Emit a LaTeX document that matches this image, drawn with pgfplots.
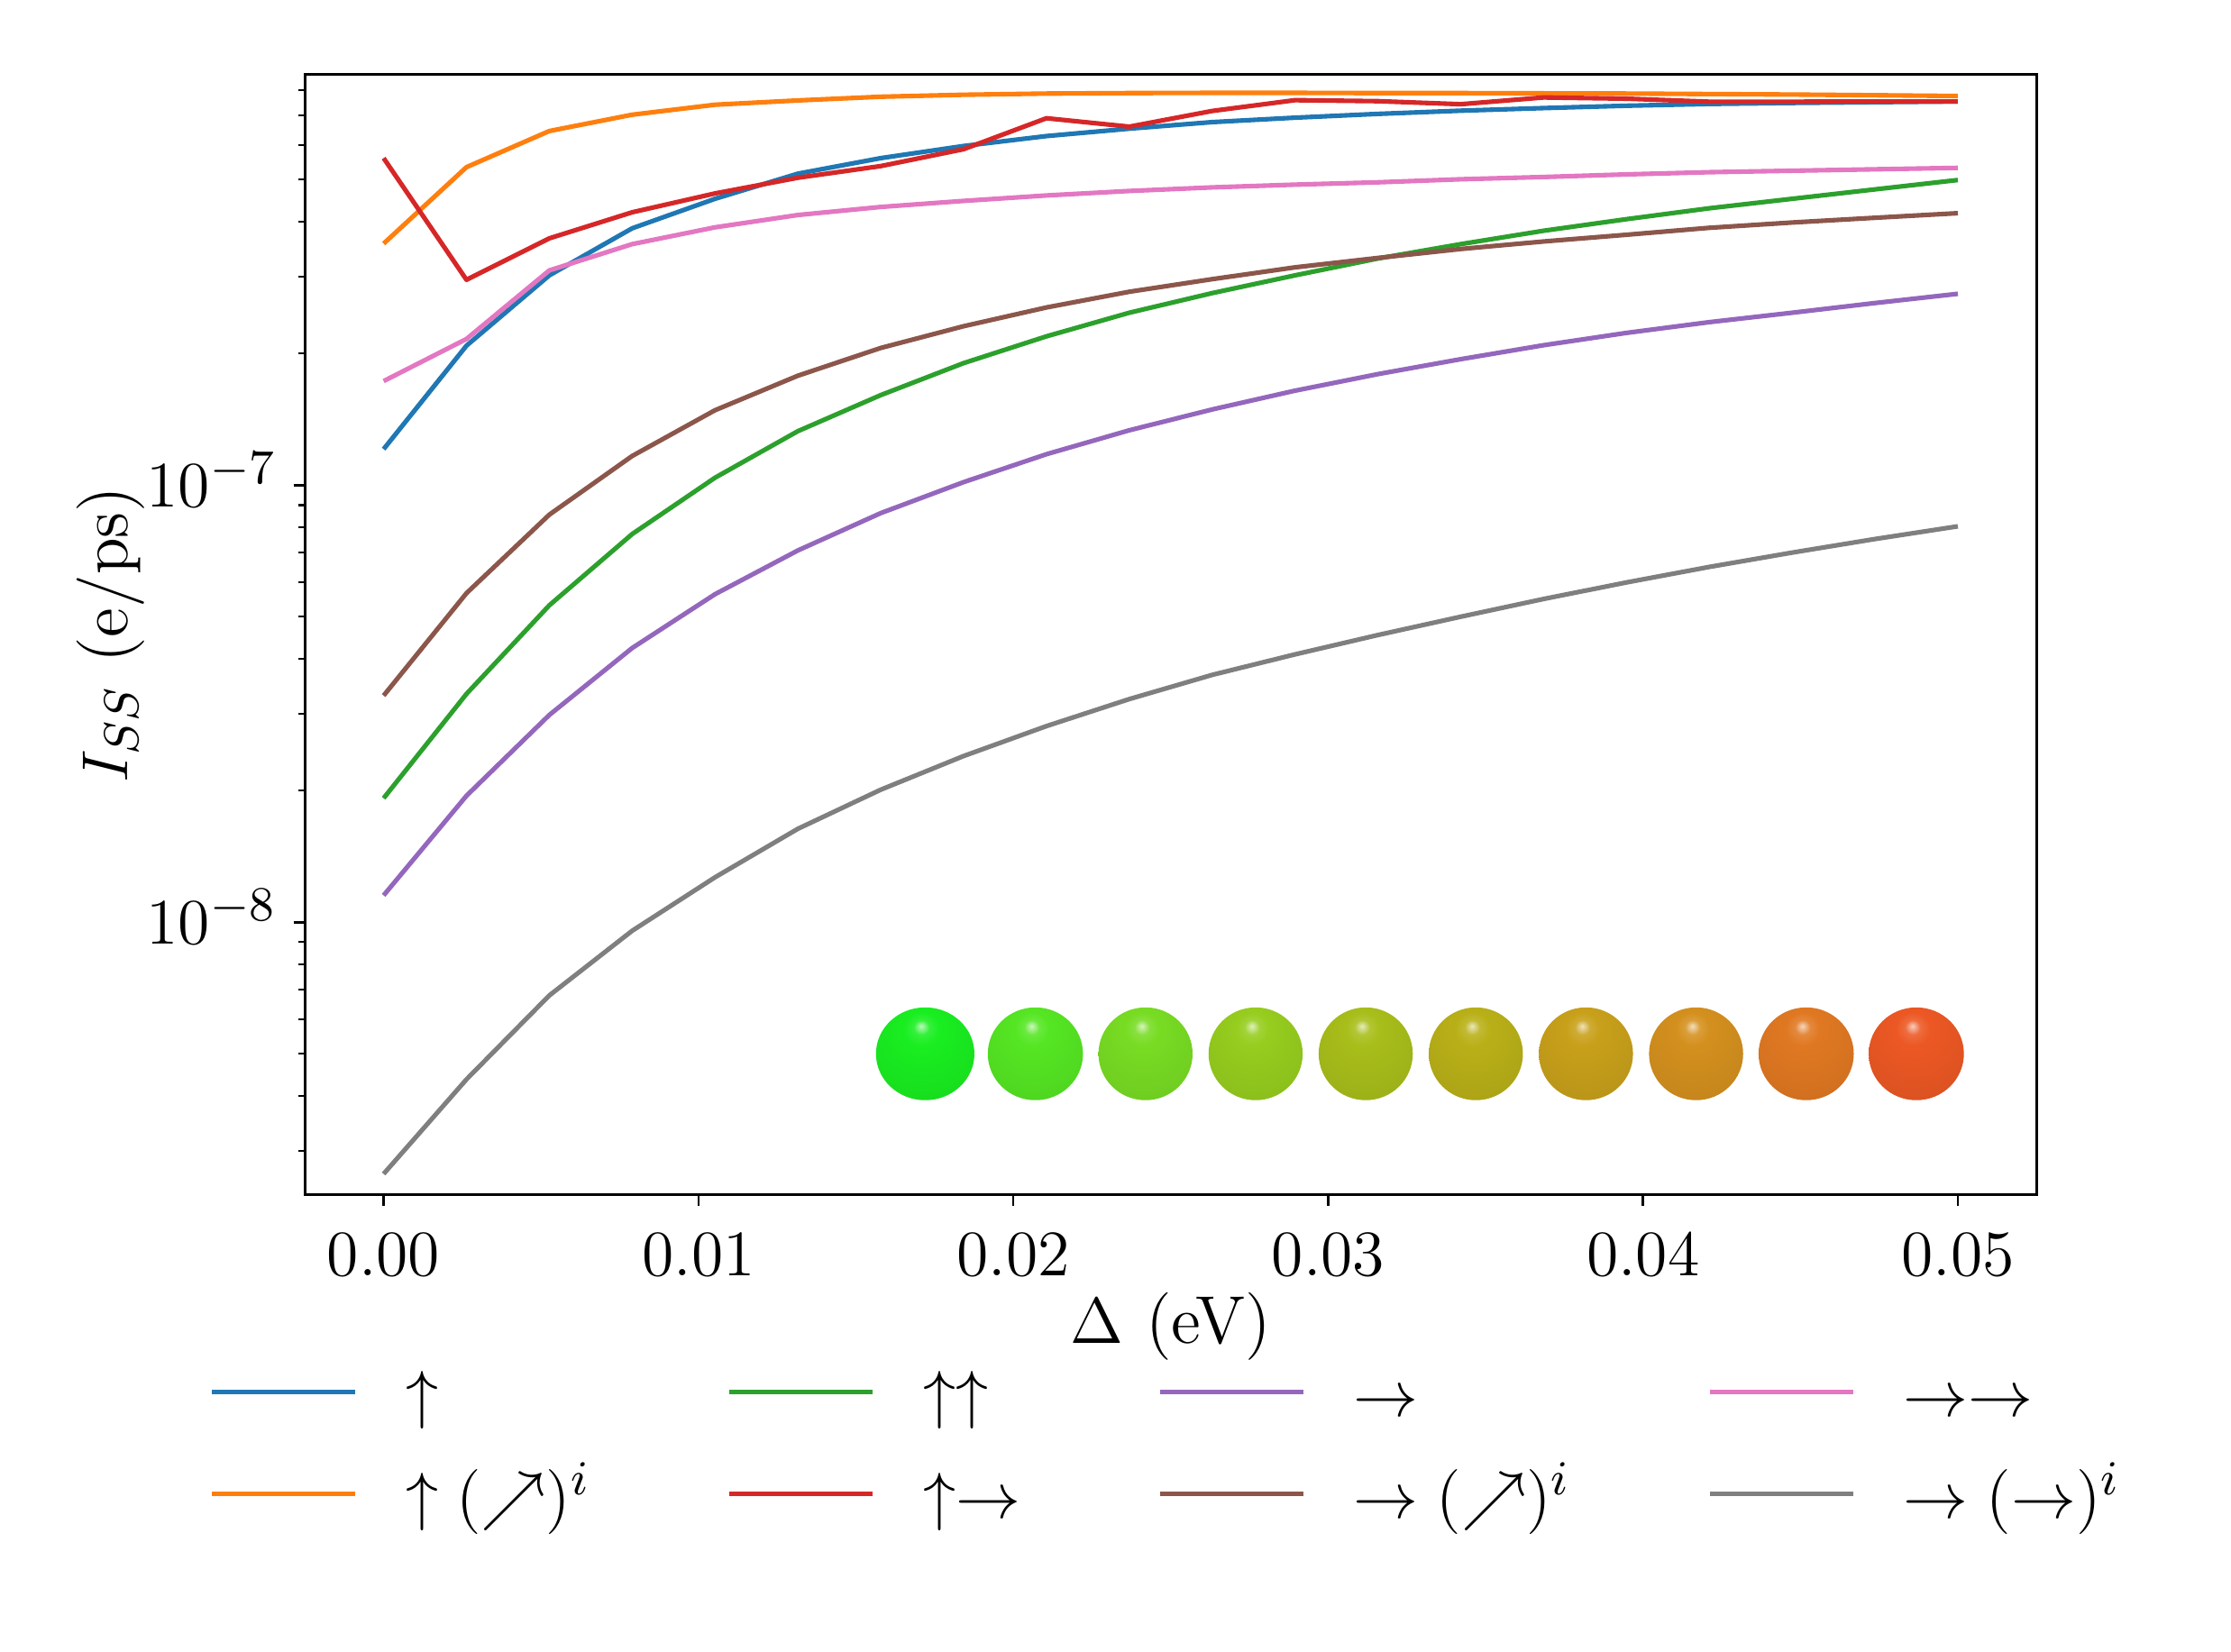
\documentclass[border=0pt]{standalone}
\usepackage{pgfplots}
\pgfplotsset{compat=1.18}
\usepackage{pgfplotstable}

\definecolor{c0}{HTML}{1F77B4}
\definecolor{c1}{HTML}{FF7F0E}
\definecolor{c2}{HTML}{2CA02C}
\definecolor{c3}{HTML}{D62728}
\definecolor{c4}{HTML}{9467BD}
\definecolor{c5}{HTML}{8C564B}
\definecolor{c6}{HTML}{E377C2}
\definecolor{c7}{HTML}{7F7F7F}

\definecolor{s1}{RGB}{25,238,32}
\definecolor{s2}{RGB}{85,230,35}
\definecolor{s3}{RGB}{120,220,35}
\definecolor{s4}{RGB}{150,205,30}
\definecolor{s5}{RGB}{168,190,26}
\definecolor{s6}{RGB}{185,176,24}
\definecolor{s7}{RGB}{200,160,26}
\definecolor{s8}{RGB}{212,144,30}
\definecolor{s9}{RGB}{224,120,34}
\definecolor{s10}{RGB}{236,88,36}

\colorlet{sphcol}{green}
\pgfdeclareradialshading[sphcol]{sphere}{\pgfqpoint{-2bp}{15bp}}{%
 color(0bp)=(sphcol!30!white);
 color(4bp)=(sphcol!88!white);
 color(9bp)=(sphcol);
 color(38bp)=(sphcol!92!black);
 color(65bp)=(sphcol!66!black);
 color(80bp)=(sphcol!60!black)}

\newcommand\defsphere[3]{%
 \pgfdeclareplotmark{#1}{%
  \colorlet{sphcol}{#2}%
  \pgfpathellipse{\pgfpointorigin}{\pgfqpoint{#3}{0pt}}{\pgfqpoint{0pt}{8.58pt}}%
  \pgfshadepath{sphere}{0}%
  \pgfusepath{discard}}}
\defsphere{sph1}{s1}{9.1pt}
\defsphere{sph2}{s2}{8.8pt}
\defsphere{sph3}{s3}{8.7pt}
\defsphere{sph4}{s4}{8.7pt}
\defsphere{sph5}{s5}{8.7pt}
\defsphere{sph6}{s6}{8.7pt}
\defsphere{sph7}{s7}{8.7pt}
\defsphere{sph8}{s8}{8.7pt}
\defsphere{sph9}{s9}{8.8pt}
\defsphere{sph10}{s10}{8.8pt}

\pgfplotstableread{
x up upne upup upr r rne rr rrr
0 1.209e-7 3.57e-7 1.922e-8 5.60e-7 1.152e-8 3.30e-8 1.73e-7 2.656e-9
0.0026316 2.085e-7 5.34e-7 3.33e-8 2.95e-7 1.947e-8 5.66e-8 2.16e-7 4.37e-9
0.0052632 3.02e-7 6.46e-7 5.31e-8 3.67e-7 2.98e-8 8.56e-8 3.10e-7 6.80e-9
0.0078947 3.87e-7 7.04e-7 7.73e-8 4.21e-7 4.24e-8 1.166e-7 3.56e-7 9.56e-9
0.0105263 4.52e-7 7.42e-7 1.040e-7 4.65e-7 5.63e-8 1.484e-7 3.89e-7 1.267e-8
0.0131579 5.16e-7 7.59e-7 1.329e-7 5.05e-7 7.09e-8 1.780e-7 4.15e-7 1.636e-8
0.0157895 5.60e-7 7.74e-7 1.607e-7 5.37e-7 8.63e-8 2.06e-7 4.33e-7 2.01e-8
0.0184211 5.97e-7 7.82e-7 1.902e-7 5.87e-7 1.016e-7 2.31e-7 4.47e-7 2.40e-8
0.0210526 6.29e-7 7.87e-7 2.19e-7 6.91e-7 1.177e-7 2.55e-7 4.60e-7 2.81e-8
0.0236842 6.54e-7 7.89e-7 2.48e-7 6.61e-7 1.335e-7 2.77e-7 4.71e-7 3.24e-8
0.0263158 6.77e-7 7.90e-7 2.75e-7 7.18e-7 1.49e-7 2.96e-7 4.80e-7 3.68e-8
0.0289474 6.93e-7 7.90e-7 3.02e-7 7.60e-7 1.645e-7 3.15e-7 4.87e-7 4.10e-8
0.0315789 7.07e-7 7.89e-7 3.30e-7 7.56e-7 1.795e-7 3.31e-7 4.93e-7 4.54e-8
0.0342105 7.19e-7 7.89e-7 3.56e-7 7.44e-7 1.942e-7 3.47e-7 5.01e-7 5.00e-8
0.0368421 7.29e-7 7.88e-7 3.82e-7 7.71e-7 2.09e-7 3.61e-7 5.07e-7 5.49e-8
0.0394737 7.38e-7 7.87e-7 4.06e-7 7.66e-7 2.23e-7 3.74e-7 5.14e-7 5.99e-8
0.0421053 7.45e-7 7.85e-7 4.30e-7 7.54e-7 2.36e-7 3.88e-7 5.20e-7 6.50e-8
0.0447368 7.49e-7 7.83e-7 4.52e-7 7.54e-7 2.48e-7 3.99e-7 5.24e-7 7.01e-8
0.0473684 7.52e-7 7.80e-7 4.75e-7 7.55e-7 2.61e-7 4.09e-7 5.28e-7 7.53e-8
0.05 7.55e-7 7.77e-7 4.99e-7 7.55e-7 2.74e-7 4.19e-7 5.32e-7 8.05e-8
}\data

\begin{document}
\begin{tikzpicture}[font=\fontsize{12.5}{15}\selectfont]
\useasboundingbox (-56.38pt,-84.6pt) rectangle (356.12pt,220.88pt);
\begin{axis}[
  at={(0pt,0pt)}, anchor=south west,
  scale only axis, width=320.17pt, height=207.1pt,
  ymode=log,
  xmin=-0.0025, xmax=0.0525, ymin=2.383e-9, ymax=8.697e-7,
  xtick={0,0.01,0.02,0.03,0.04,0.05},
  scaled x ticks=false,
  xticklabel={\pgfmathprintnumber[fixed,fixed zerofill,precision=2]{\tick}},
  ytick={1e-8,1e-7},
  minor ytick={3e-9,4e-9,5e-9,6e-9,7e-9,8e-9,9e-9,2e-8,3e-8,4e-8,5e-8,6e-8,7e-8,8e-8,9e-8,2e-7,3e-7,4e-7,5e-7,6e-7,7e-7,8e-7},
  tick align=outside,
  tick pos=left,
  major tick length=2.1pt,
  minor tick length=1.17pt,
  every tick/.style={black, line width=0.45pt},
  every minor tick/.append style={line width=0.34pt},
  axis line style={line width=0.45pt},
  xlabel={$\Delta$ (eV)},
  ylabel={$I_{SS}$ (e/ps)},
  every axis x label/.style={at={(axis description cs:0.5,0)}, anchor=base, yshift=-27.45pt},
  every axis y label/.style={at={(axis description cs:0,0.5)}, xshift=-32.8pt, rotate=90, anchor=base},
  xticklabel style={anchor=base, yshift=-12.85pt, inner sep=0pt},
  yticklabel style={anchor=base east, xshift=-2.9pt, yshift=-4.0pt, inner sep=0pt},
  every axis plot/.append style={line width=0.85pt, line join=round},
  legend columns=4,
  legend cell align=left,
  legend image code/.code={\draw[#1] (0pt,4.5pt) -- (26.5pt,4.5pt);},
  legend style={at={(axis description cs:0,0)}, anchor=north west,
    xshift=-17.6pt, yshift=-31.6pt, draw=none, fill=none,
    inner sep=0pt, outer sep=0pt, row sep=6.33pt, column sep=0pt,
    nodes={inner sep=0pt, text height=9.375pt, text depth=3.125pt, anchor=base west},
    /tikz/every odd column/.append style={column sep=8.9pt},
    /tikz/every even column/.append style={column sep=25.3pt}},
]
\addplot[c0] table[x=x,y=up] {\data};
\addlegendentry{$\uparrow$}
\addplot[c2] table[x=x,y=upup] {\data};
\addlegendentry{$\uparrow\uparrow$}
\addplot[c4] table[x=x,y=r] {\data};
\addlegendentry{$\rightarrow$}
\addplot[c6] table[x=x,y=rr] {\data};
\addlegendentry{$\rightarrow\rightarrow$}
\addplot[c1] table[x=x,y=upne] {\data};
\addlegendentry{$\uparrow(\nearrow)^i$}
\addplot[c3] table[x=x,y=upr] {\data};
\addlegendentry{$\uparrow\rightarrow$}
\addplot[c5] table[x=x,y=rne] {\data};
\addlegendentry{$\rightarrow(\nearrow)^i$}
\addplot[c7] table[x=x,y=rrr] {\data};
\addlegendentry{$\rightarrow(\rightarrow)^i$}

\addplot[forget plot, only marks, mark=sph1] coordinates {(0.017201,5.0e-9)};
\addplot[forget plot, only marks, mark=sph2] coordinates {(0.020701,5.0e-9)};
\addplot[forget plot, only marks, mark=sph3] coordinates {(0.024199,5.0e-9)};
\addplot[forget plot, only marks, mark=sph4] coordinates {(0.027696,5.0e-9)};
\addplot[forget plot, only marks, mark=sph5] coordinates {(0.031193,5.0e-9)};
\addplot[forget plot, only marks, mark=sph6] coordinates {(0.034691,5.0e-9)};
\addplot[forget plot, only marks, mark=sph7] coordinates {(0.038188,5.0e-9)};
\addplot[forget plot, only marks, mark=sph8] coordinates {(0.041686,5.0e-9)};
\addplot[forget plot, only marks, mark=sph9] coordinates {(0.045183,5.0e-9)};
\addplot[forget plot, only marks, mark=sph10] coordinates {(0.048681,5.0e-9)};
\end{axis}
\end{tikzpicture}
\end{document}
